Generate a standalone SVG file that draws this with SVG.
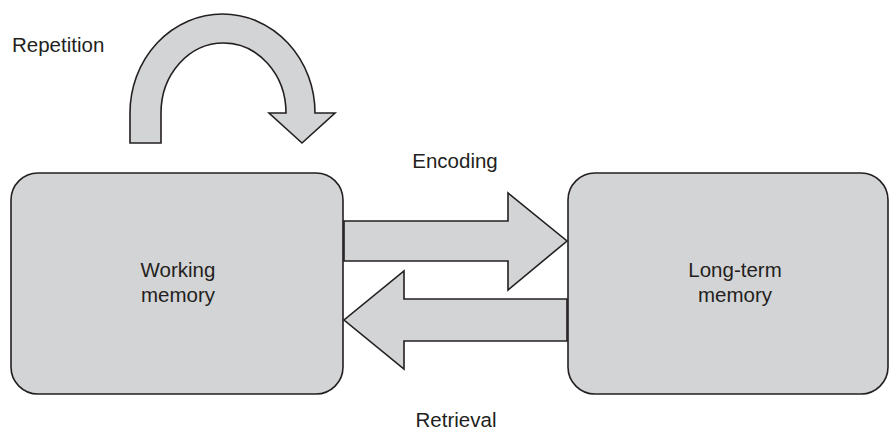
<svg xmlns="http://www.w3.org/2000/svg" width="889" height="430" viewBox="0 0 889 430">
  <style>
    .shape { fill: #d3d4d6; stroke: #231f20; stroke-width: 1.6; stroke-linejoin: miter; }
    .label { font-family: "Liberation Sans", Arial, sans-serif; font-size: 20.5px; fill: #231f20; }
    .mid { text-anchor: middle; }
  </style>
  <rect width="889" height="430" fill="#ffffff"/>

  <g id="repetition">
    <path class="shape" d="M130,143 L130,113 A92.5,99 0 0 1 315,113 L335,113 L302,143 L269,113 L286,113 A62.5,70 0 0 0 161,113 L161,143 Z"/>
    <text class="label" x="12" y="52">Repetition</text>
  </g>

  <g id="working-memory">
    <rect class="shape" x="11" y="173" width="332" height="221" rx="27" ry="27"/>
    <text class="label mid" x="178" y="277">Working</text>
    <text class="label mid" x="178" y="302">memory</text>
  </g>

  <g id="long-term-memory">
    <rect class="shape" x="568" y="173" width="320" height="221" rx="27" ry="27"/>
    <text class="label mid" x="735" y="277">Long-term</text>
    <text class="label mid" x="735" y="302">memory</text>
  </g>

  <g id="connectors">
    <g id="encoding">
      <path class="shape" d="M344,221 L508,221 L508,193 L567,241 L508,290 L508,261 L344,261 Z"/>
      <text class="label mid" x="455" y="168">Encoding</text>
    </g>
    <g id="retrieval">
      <path class="shape" d="M567,299 L404,299 L404,271 L344,320 L404,369 L404,341 L567,341 Z"/>
      <text class="label mid" x="456" y="427">Retrieval</text>
    </g>
  </g>
</svg>
